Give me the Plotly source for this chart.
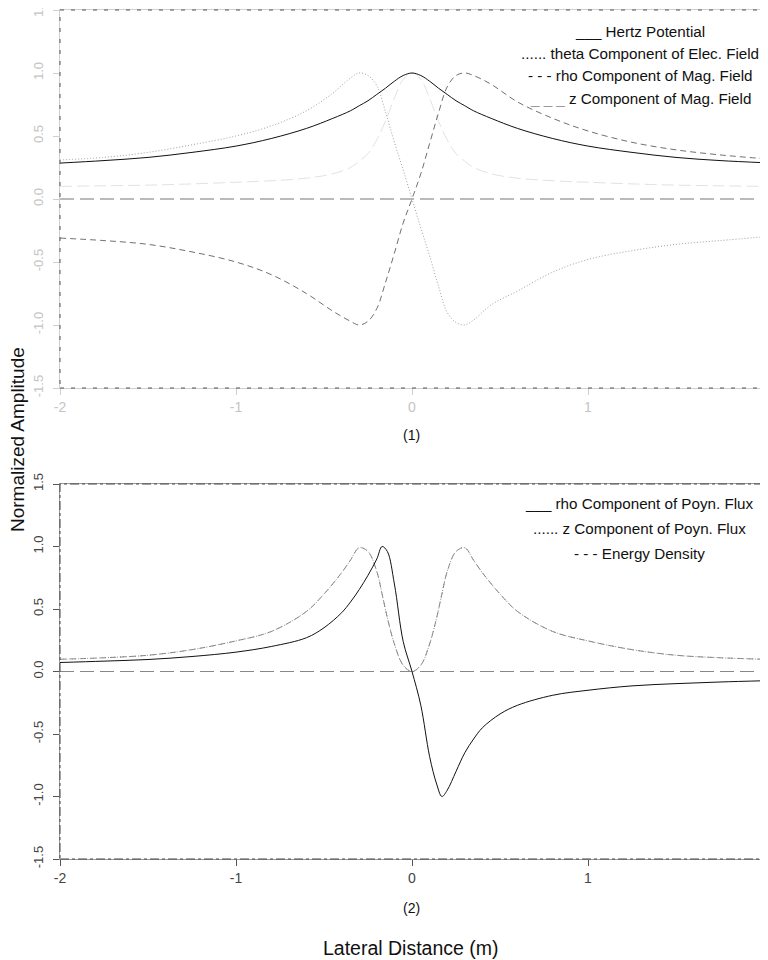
import plotly.graph_objects as go
from plotly.subplots import make_subplots

# ---- data ----
# panel (1): fields
X_TOP = [-2.0, -1.75, -1.5, -1.25, -1.0, -0.8, -0.6, -0.45, -0.35, -0.3, -0.25, -0.2, -0.15, -0.1, -0.05,
         0.0, 0.05, 0.1, 0.15, 0.2, 0.25, 0.3, 0.35, 0.45, 0.6, 0.8, 1.0, 1.25, 1.5, 1.75, 2.0]
hertz_potential = [0.285, 0.305, 0.33, 0.37, 0.42, 0.48, 0.56, 0.64, 0.70, 0.74, 0.78, 0.83, 0.88, 0.935, 0.98,
                   1.0, 0.98, 0.935, 0.88, 0.83, 0.78, 0.74, 0.70, 0.64, 0.56, 0.48, 0.42, 0.37, 0.33, 0.305, 0.288]
theta_elec = [0.31, 0.33, 0.37, 0.43, 0.50, 0.58, 0.70, 0.84, 0.96, 1.0, 0.98, 0.90, 0.69, 0.45, 0.23,
              0.0, -0.23, -0.45, -0.69, -0.90, -0.98, -1.0, -0.96, -0.84, -0.73, -0.58, -0.48, -0.41, -0.36, -0.33, -0.30]
rho_mag = [-0.31, -0.33, -0.36, -0.42, -0.50, -0.60, -0.75, -0.89, -0.97, -1.0, -0.97, -0.87, -0.66, -0.43, -0.19,
           0.0, 0.2, 0.44, 0.68, 0.89, 0.98, 1.0, 0.98, 0.91, 0.77, 0.64, 0.54, 0.45, 0.39, 0.35, 0.32]
z_mag = [0.10, 0.105, 0.11, 0.12, 0.133, 0.145, 0.165, 0.20, 0.25, 0.30, 0.36, 0.47, 0.62, 0.80, 0.95,
         1.0, 0.95, 0.80, 0.62, 0.47, 0.36, 0.30, 0.25, 0.20, 0.165, 0.145, 0.133, 0.12, 0.11, 0.105, 0.10]

# panel (2): flux and energy
X_BOT = [-2.0, -1.75, -1.5, -1.25, -1.0, -0.8, -0.6, -0.5, -0.4, -0.35, -0.3, -0.25, -0.2, -0.17, -0.14, -0.1, -0.05,
         0.0, 0.05, 0.1, 0.14, 0.17, 0.2, 0.25, 0.3, 0.35, 0.4, 0.5, 0.6, 0.8, 1.0, 1.25, 1.5, 1.75, 2.0]
rho_poyn = [0.072, 0.083, 0.096, 0.12, 0.155, 0.20, 0.27, 0.35, 0.47, 0.555, 0.655, 0.77, 0.90, 1.0, 0.96, 0.70, 0.24,
            0.0, -0.27, -0.68, -0.90, -1.0, -0.95, -0.80, -0.65, -0.54, -0.45, -0.34, -0.27, -0.19, -0.15, -0.115, -0.097, -0.084, -0.074]
z_poyn = [0.098, 0.11, 0.13, 0.175, 0.245, 0.32, 0.48, 0.62, 0.79, 0.89, 0.99, 0.96, 0.80, 0.62, 0.43, 0.22, 0.05,
          0.0, 0.05, 0.22, 0.43, 0.62, 0.80, 0.96, 0.99, 0.89, 0.79, 0.62, 0.48, 0.32, 0.245, 0.175, 0.13, 0.11, 0.098]
energy_density = z_poyn

ZERO_X = [-2, 2]
ZERO_Y = [0, 0]

X_TICKS = [-2, -1, 0, 1, 2]
X_TICK_TEXT = ["-2", "-1", "0", "1", "2"]
Y_TICKS = [-1.5, -1.0, -0.5, 0.0, 0.5, 1.0, 1.5]
Y_TICK_TEXT = ["-1.5", "-1.0", "-0.5", "0.0", "0.5", "1.0", "1.5"]

TOP_LEGEND = ["___ Hertz Potential",
              "...... theta Component of Elec. Field",
              "- - - rho Component of Mag. Field",
              "<span style='color:#9a9a9a'>_ _ _</span> z Component of Mag. Field"]
BOT_LEGEND = ["___ rho Component of Poyn. Flux",
              "...... z Component of Poyn. Flux",
              "- - - Energy Density"]

FONT = "Liberation Sans, Arial, sans-serif"

# the page body adds an 8px margin, so the figure is 8px smaller each way
W, H = 760, 952

fig = make_subplots(rows=2, cols=1)


def line(x, y, color, dash, width=1.0, row=1):
    fig.add_trace(
        go.Scatter(x=x, y=y, mode="lines", line=dict(color=color, dash=dash, width=width, shape="spline", smoothing=1.0),
                   hoverinfo="skip", showlegend=False),
        row=row, col=1
    )


# Top panel
line(ZERO_X, ZERO_Y, "#777777", "14px,6px", 1.0, 1)
line(X_TOP, z_mag, "#e2e2e2", "12px,5px", 1.0, 1)
line(X_TOP, theta_elec, "#a0a0a0", "1px,2px", 1.0, 1)
line(X_TOP, rho_mag, "#707070", "6px,4px", 1.0, 1)
line(X_TOP, hertz_potential, "#111111", "solid", 1.0, 1)

# Bottom panel
line(ZERO_X, ZERO_Y, "#888888", "14px,6px", 1.0, 2)
line(X_BOT, energy_density, "#8a8a8a", "6px,4px", 1.0, 2)
line(X_BOT, z_poyn, "#8a8a8a", "1px,2px", 1.0, 2)
line(X_BOT, rho_poyn, "#111111", "solid", 1.0, 2)

# automargin off, otherwise the template pushes the plot areas around
axis_common = dict(ticks="outside", ticklen=6, showgrid=False, zeroline=False, showline=True, mirror=True,
                   linewidth=1, ticklabeloverflow="allow", automargin=False)

fig.update_xaxes(range=[-2, 2], tickvals=X_TICKS, ticktext=X_TICK_TEXT, domain=[52 / W, 756 / W], **axis_common)
fig.update_yaxes(range=[-1.5, 1.5], tickvals=Y_TICKS, ticktext=Y_TICK_TEXT, tickangle=-90,
                 ticklabelstandoff=5, **axis_common)

# light grey axes on top panel, darker on the bottom one
fig.update_xaxes(linecolor="#cfcfcf", tickcolor="#cfcfcf", tickfont=dict(color="#c4c4c4", size=14, family=FONT), row=1, col=1)
fig.update_yaxes(linecolor="#cfcfcf", tickcolor="#cfcfcf", tickfont=dict(color="#c4c4c4", size=13, family=FONT),
                 domain=[1 - 380 / H, 1 - 2 / H], row=1, col=1)
fig.update_xaxes(linecolor="#9a9a9a", tickcolor="#555555", tickfont=dict(color="#444444", size=14, family=FONT), row=2, col=1)
fig.update_yaxes(linecolor="#9a9a9a", tickcolor="#555555", tickfont=dict(color="#444444", size=13, family=FONT),
                 domain=[1 - 851 / H, 1 - 476 / H], row=2, col=1)

# dashed frames drawn over the axis lines
shapes = [
    dict(type="rect", xref="x domain", yref="y domain", x0=0, x1=1, y0=0, y1=1,
         line=dict(color="#555555", width=1, dash="4px,7px")),
    dict(type="rect", xref="x2 domain", yref="y2 domain", x0=0, x1=1, y0=0, y1=1,
         line=dict(color="#444444", width=1, dash="dashdot")),
]


def text(txt, px, py, size, angle=0):
    # px, py are figure pixels from the top-left corner
    return dict(text=txt, xref="paper", yref="paper", x=px / W, y=1 - py / H, textangle=angle,
                xanchor="center", yanchor="middle", showarrow=False,
                font=dict(size=size, family=FONT, color="#111111"))


annotations = []
for i, txt in enumerate(TOP_LEGEND):
    annotations.append(text(txt, 632, 23.7 + i * 22.1, 15.2))
for i, txt in enumerate(BOT_LEGEND):
    annotations.append(text(txt, 631, 495 + i * 25, 15.2))

annotations += [
    text("(1)", 403, 427, 14),
    text("(2)", 403, 900, 14),
    text("Lateral Distance (m)", 403, 940, 19.5),
    text("Normalized Amplitude", 10, 432, 19, -90),
]

fig.update_layout(
    width=W,
    height=H,
    margin=dict(l=0, r=0, t=0, b=0),
    paper_bgcolor="white",
    plot_bgcolor="white",
    showlegend=False,
    font=dict(family=FONT),
    shapes=shapes,
    annotations=annotations,
)

fig.write_html("out.html")
